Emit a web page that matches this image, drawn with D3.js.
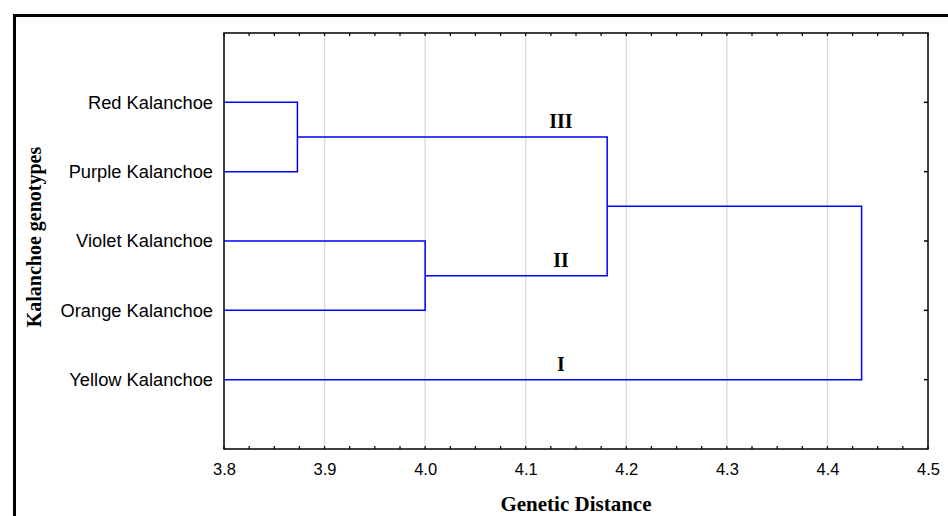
<!DOCTYPE html>
<html>
<head>
<meta charset="utf-8">
<script src="https://cdn.jsdelivr.net/npm/d3@7"></script>
<style>
  body { margin: 0; background: #fff; }
  svg { display: block; }
</style>
</head>
<body>
<script>

// genotypes, top to bottom
var leaves = ["Red Kalanchoe", "Purple Kalanchoe", "Violet Kalanchoe", "Orange Kalanchoe", "Yellow Kalanchoe"];

// joins: which two nodes, at what distance (nodes 5.. are the joins themselves)
var joinLeft = [0, 2, 5, 7];
var joinRight = [1, 3, 6, 4];
var joinHeight = [3.873, 4.0, 4.181, 4.434];

// cluster labels and the node whose branch they sit on
var clusterNames = ["III", "II", "I"];
var clusterNodes = [5, 6, 4];

var xTicks = [3.8, 3.9, 4.0, 4.1, 4.2, 4.3, 4.4, 4.5];

var width = 948,
  height = 516,
  margin = {top: 33, right: 20, bottom: 67, left: 224},
  innerRight = 928,
  innerBottom = 449;

var svg = d3.select("body").append("svg")
  .attr("width", width)
  .attr("height", height);

var x = d3.scaleLinear().domain([3.8, 4.5]).range([margin.left, innerRight]);
var y = d3.scalePoint().domain(leaves).range([margin.top, innerBottom]).padding(1);

// outer frame
svg.append("rect")
  .attr("x", 14.5).attr("y", 15.5)
  .attr("width", 1200).attr("height", 1200)
  .attr("fill", "none")
  .attr("stroke", "#000")
  .attr("stroke-width", 3);

// grid
svg.append("g").selectAll("line")
  .data(xTicks.slice(1, -1))
  .enter().append("line")
  .attr("x1", function(d) { return x(d); })
  .attr("x2", function(d) { return x(d); })
  .attr("y1", margin.top)
  .attr("y2", innerBottom)
  .attr("stroke", "#d9d9d9")
  .attr("stroke-width", 1.3);

// node positions
var nodes = leaves.map(function(d) { return {x: 3.8, y: y(d)}; });
joinHeight.forEach(function(h, i) {
  var a = nodes[joinLeft[i]], b = nodes[joinRight[i]];
  nodes.push({x: h, y: (a.y + b.y) / 2, a: a, b: b});
});

var path = "";
nodes.forEach(function(n) {
  if (!n.a) return;
  path += "M" + x(n.a.x) + "," + n.a.y + "H" + x(n.x) + "V" + n.b.y + "H" + x(n.b.x);
});

svg.append("path")
  .attr("d", path)
  .attr("fill", "none")
  .attr("stroke", "#0000ff")
  .attr("stroke-width", 1.5);

// axes (ticks pointing inward)
var minor = d3.range(3.8, 4.5001, 0.025);

svg.append("g")
  .attr("transform", "translate(0," + innerBottom + ")")
  .call(d3.axisBottom(x).tickValues(xTicks).tickSize(0).tickPadding(14).tickFormat(d3.format(".1f")))
  .call(function(g) {
    g.select(".domain").remove();
    g.selectAll("text")
      .attr("font-family", "Liberation Sans, Arial, sans-serif")
      .attr("font-size", "16.5px")
      .attr("fill", "#000");
  });

var frame = svg.append("g").attr("stroke", "#000").attr("fill", "none");

frame.append("rect")
  .attr("x", margin.left).attr("y", margin.top)
  .attr("width", innerRight - margin.left)
  .attr("height", innerBottom - margin.top)
  .attr("stroke-width", 1.5);

frame.selectAll(".tb").data(minor).enter().append("path")
  .attr("d", function(d) {
    var px = x(d);
    return "M" + px + "," + margin.top + "v3M" + px + "," + innerBottom + "v-3";
  })
  .attr("stroke-width", 1.2);

frame.selectAll(".rt").data(leaves).enter().append("path")
  .attr("d", function(d) { return "M" + innerRight + "," + y(d) + "h-4"; })
  .attr("stroke-width", 1.5);

// leaf labels
svg.append("g").selectAll("text")
  .data(leaves)
  .enter().append("text")
  .attr("x", margin.left - 11)
  .attr("y", function(d) { return y(d); })
  .attr("dy", "0.35em")
  .attr("text-anchor", "end")
  .attr("font-family", "Liberation Sans, Arial, sans-serif")
  .attr("font-size", "18.3px")
  .text(function(d) { return d; });

// cluster labels
svg.append("g").selectAll("text")
  .data(clusterNames)
  .enter().append("text")
  .attr("x", x(4.135))
  .attr("y", function(d, i) { return nodes[clusterNodes[i]].y - 9; })
  .attr("text-anchor", "middle")
  .attr("font-family", "Liberation Serif, Times New Roman, serif")
  .attr("font-weight", "bold")
  .attr("font-size", "20px")
  .text(function(d) { return d; });

// axis titles
svg.append("text")
  .attr("x", (margin.left + innerRight) / 2)
  .attr("y", 511)
  .attr("text-anchor", "middle")
  .attr("font-family", "Liberation Serif, Times New Roman, serif")
  .attr("font-weight", "bold")
  .attr("font-size", "21px")
  .text("Genetic Distance");

svg.append("text")
  .attr("transform", "translate(41,237) rotate(-90)")
  .attr("text-anchor", "middle")
  .attr("font-family", "Liberation Serif, Times New Roman, serif")
  .attr("font-weight", "bold")
  .attr("font-size", "20px")
  .text("Kalanchoe genotypes");

</script>
</body>
</html>
